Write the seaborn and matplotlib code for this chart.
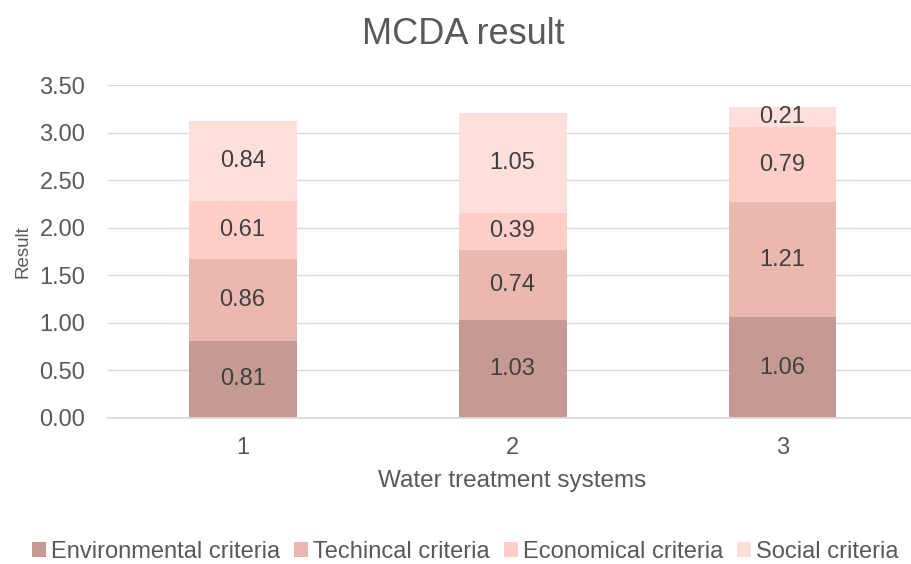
import numpy as np
import pandas as pd
import matplotlib
matplotlib.use("Agg")
import matplotlib.pyplot as plt
import seaborn as sns

# ── Data ──────────────────────────────────────────────────────────────────────
systems = ["1", "2", "3"]
criteria = ["Environmental criteria", "Techincal criteria", "Economical criteria", "Social criteria"]
environmental = [0.81, 1.03, 1.06]
technical = [0.86, 0.74, 1.21]
economical = [0.61, 0.39, 0.79]
social = [0.84, 1.05, 0.21]
colors = ["#C49A92", "#EBB8AF", "#FFCFC7", "#FFDFDB"]

sns.set_theme(style="white")
plt.rcParams['font.family'] = ['Liberation Sans', 'DejaVu Sans']
text_col = "#595959"

layers = np.array([environmental, technical, economical, social])
tops = layers.cumsum(axis=0)
df = pd.DataFrame({"system": systems})
for name, t in zip(criteria, tops):
    df[name] = t

fig = plt.figure(figsize=(9.12, 5.64), dpi=100)
ax = fig.add_axes([0.118, 0.259, 0.888, 0.59])

# draw tallest (cumulative) first, then overlay lower segments
for name, col in reversed(list(zip(criteria, colors))):
    sns.barplot(data=df, x="system", y=name, color=col, width=0.4,
                saturation=1, ax=ax, label=name, linewidth=0)

# segment labels
for i in range(len(systems)):
    for k in range(len(criteria)):
        mid = tops[k, i] - layers[k, i] / 2
        ax.text(i, mid, f"{layers[k, i]:.2f}", ha="center", va="center",
                fontsize=17, color="#404040")

ax.set_ylim(0, 3.5)
ax.set_xlim(-0.5, 2.5)
ax.set_yticks(np.arange(0, 3.51, 0.5))
ax.set_yticklabels([f"{v:.2f}" for v in np.arange(0, 3.51, 0.5)])
ax.yaxis.grid(True, color="#D9D9D9", linewidth=1)
ax.set_axisbelow(True)
for s in ["top", "right", "left"]:
    ax.spines[s].set_visible(False)
ax.spines["bottom"].set_color("#D9D9D9")
ax.tick_params(axis="both", labelsize=17, colors=text_col, length=0)
ax.tick_params(axis="x", pad=14)
ax.tick_params(axis="y", pad=16)
ax.set_xlabel("Water treatment systems", fontsize=17.5, color=text_col, labelpad=8)
ax.set_ylabel("Result", fontsize=13.5, color=text_col, labelpad=6)
fig.suptitle("MCDA result", fontsize=26, color=text_col, x=0.508, y=0.97)

handles, labels = ax.get_legend_handles_labels()
order = [labels.index(c) for c in criteria]
ax.legend([handles[j] for j in order], criteria, loc="lower center",
          bbox_to_anchor=(0.51, -0.036), bbox_transform=fig.transFigure,
          ncol=4, frameon=False, fontsize=17, labelcolor=text_col,
          handlelength=0.6, handleheight=0.6, handletextpad=0.2, columnspacing=0.6)

plt.savefig("out.png", dpi=100)
plt.close()
